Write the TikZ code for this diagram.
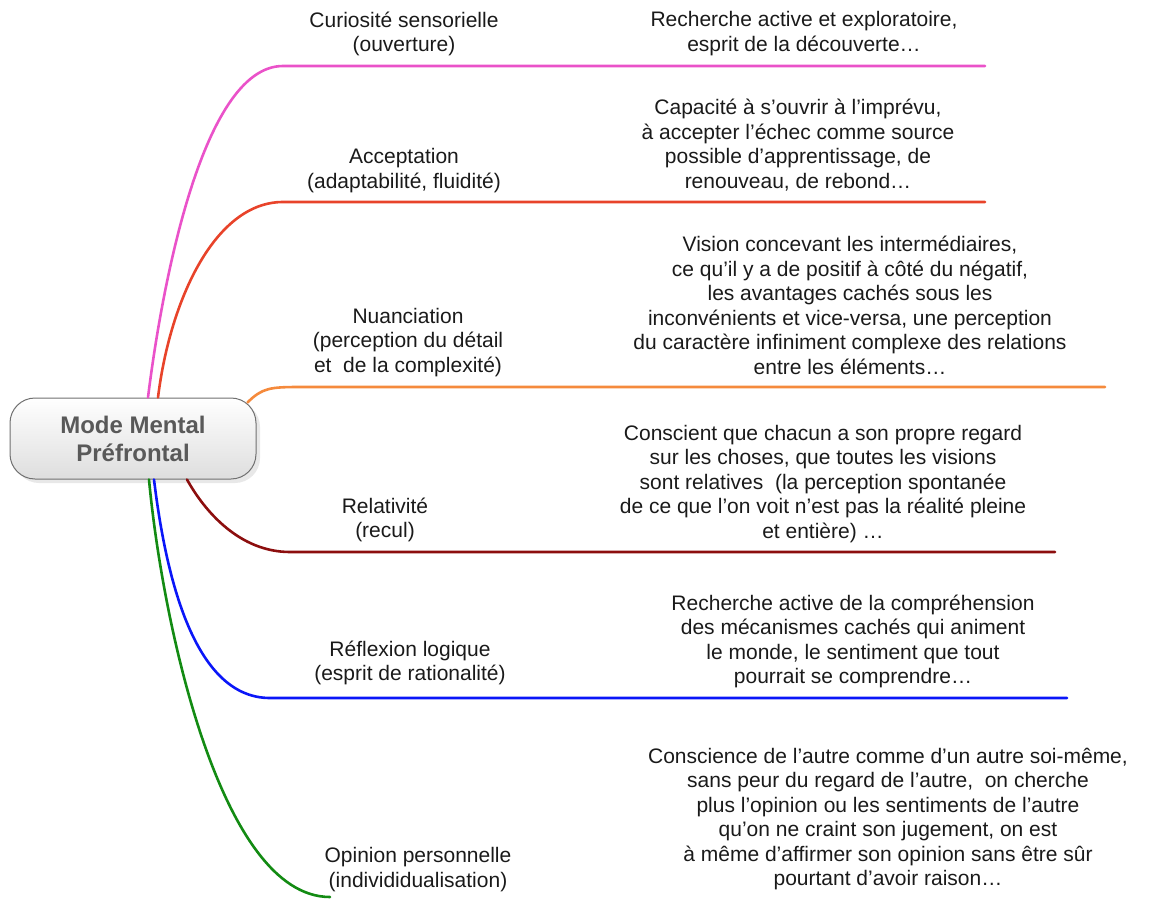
\documentclass[tikz,border=0pt]{standalone}
\usepackage{fontspec}
\setmainfont{Liberation Sans}
\usetikzlibrary{shadows}
\definecolor{cpink}{HTML}{EA52C9}
\definecolor{cred}{HTML}{E8432A}
\definecolor{corange}{HTML}{F58A3C}
\definecolor{cdark}{HTML}{8C0E0E}
\definecolor{cblue}{HTML}{0A16F8}
\definecolor{cgreen}{HTML}{138B13}
\definecolor{txt}{HTML}{1A1A1A}
\definecolor{hubtxt}{HTML}{595959}
\definecolor{hubline}{HTML}{707070}
\begin{document}
\begin{tikzpicture}[x=1pt,y=-1pt,
  branch/.style={line width=2.6pt, line cap=round},
  lbl/.style={align=center, inner sep=0pt, text=txt, font=\fontsize{21}{24.5}\selectfont},
  hub/.style={draw=hubline, line width=1pt, rounded corners=25pt,
    minimum width=246pt, minimum height=81pt, inner sep=0pt,
    top color=white, bottom color=black!13, align=center, text=hubtxt,
    font=\bfseries\fontsize{24}{28}\selectfont,
    drop shadow={shadow xshift=4pt, shadow yshift=-4pt, opacity=0.18}}]
\useasboundingbox (0,0) rectangle (1160,899);

\node[hub] (mm) at (133,438.5) {Mode Mental\\Préfrontal};

% branch end points
\coordinate (e1) at (985,66);
\coordinate (e2) at (985,202);
\coordinate (e3) at (1105,387);
\coordinate (e4) at (1055,552);
\coordinate (e5) at (1067,698);
\coordinate (e6) at (330,897);

% branches
\draw[branch, cpink] ([xshift=15pt]mm.north) .. controls (160,300) and (200,66) .. (283,66) -- (e1);
\draw[branch, cred] ([xshift=25pt]mm.north) .. controls (170,300) and (215,202) .. (283,202) -- (e2);
\draw[branch, corange] ([xshift=-9pt,yshift=-5pt]mm.north east) .. controls (262,388) and (270,387) .. (300,387) -- (e3);
\draw[branch, cdark] ([xshift=54pt]mm.south) .. controls (205,512) and (240,552) .. (290,552) -- (e4);
\draw[branch, cblue] ([xshift=21pt]mm.south) .. controls (168,595) and (200,698) .. (270,698) -- (e5);
\draw[branch, cgreen] ([xshift=16pt]mm.south) .. controls (162,620) and (220,897) .. (e6);

% branch labels
\node[lbl] (l1) at (404,34) {Curiosité sensorielle\\(ouverture)};
\node[lbl] (l2) at (404,170.5) {Acceptation\\(adaptabilité, fluidité)};
\node[lbl] (l3) at (408,342.5) {Nuanciation\\(perception du détail\\ et \ de la complexité)};
\node[lbl] (l4) at (385,520) {Relativité\\(recul)};
\node[lbl] (l5) at (410,663) {Réflexion logique\\(esprit de rationalité)};
\node[lbl] (l6) at (418,869.5) {Opinion personnelle\\(individidualisation)};

% descriptions
\node[lbl] (d1) at (804,33.5) {Recherche active et exploratoire,\\esprit de la découverte…};
\node[lbl] (d2) at (798,145) {Capacité à s’ouvrir à l’imprévu,\\à accepter l’échec comme source\\possible d’apprentissage, de\\renouveau, de rebond…};
\node[lbl] (d3) at (850,305.5) {Vision concevant les intermédiaires,\\ce qu’il y a de positif à côté du négatif,\\les avantages cachés sous les\\inconvénients et vice-versa, une perception\\du caractère infiniment complexe des relations\\entre les éléments…};
\node[lbl] (d4) at (823,484) {Conscient que chacun a son propre regard\\sur les choses, que toutes les visions\\sont relatives \ (la perception spontanée\\de ce que l’on voit n’est pas la réalité pleine\\et entière) …};
\node[lbl] (d5) at (853,641.5) {Recherche active de la compréhension\\des mécanismes cachés qui animent\\le monde, le sentiment que tout\\pourrait se comprendre…};
\node[lbl] (d6) at (888,819) {Conscience de l’autre comme d’un autre soi-même,\\sans peur du regard de l’autre, \ on cherche\\plus l’opinion ou les sentiments de l’autre\\qu’on ne craint son jugement, on est\\à même d’affirmer son opinion sans être sûr\\pourtant d’avoir raison…};
\end{tikzpicture}
\end{document}
